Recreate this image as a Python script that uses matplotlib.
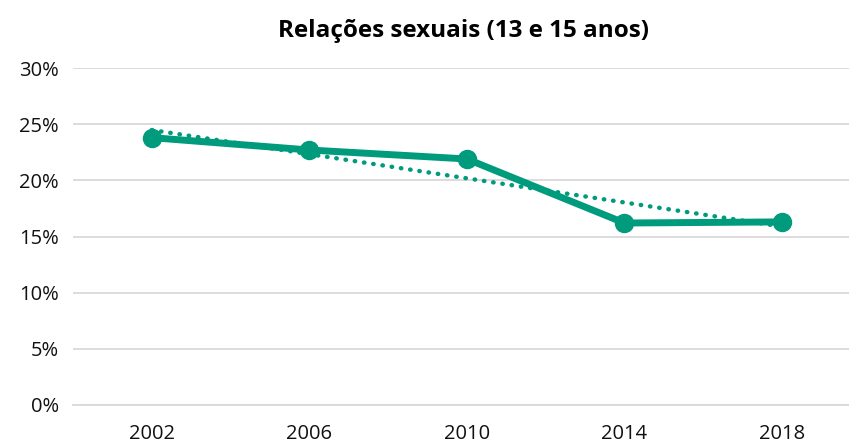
import numpy as np
import matplotlib.pyplot as plt

# Dados
anos = ['2002', '2006', '2010', '2014', '2018']
valores = [23.8, 22.7, 21.9, 16.2, 16.3]
yticks = [0, 5, 10, 15, 20, 25, 30]

cor = '#009B7D'
x = np.arange(len(anos))

# Linha de tendência linear (como no Excel)
m, b = np.polyfit(x, valores, 1)

fig = plt.figure(figsize=(8.49, 4.45), dpi=100)
ax = fig.add_axes([73 / 849, 40 / 445, 776 / 849, 337 / 445])

ax.plot(x, m * x + b, linestyle=(0, (0.1, 2.0)), dash_capstyle='round',
        color=cor, linewidth=3.2, zorder=2)
ax.plot(x, valores, color=cor, linewidth=5, marker='o', markersize=13,
        zorder=3, solid_capstyle='round')

ax.set_xlim(-0.5, 4.425)
ax.set_ylim(0, 30)
ax.set_yticks(yticks)
ax.set_yticklabels([f'{v}%' for v in yticks])
ax.set_xticks(x)
ax.set_xticklabels(anos)
ax.grid(axis='y', color='#d9d9d9', linewidth=1.3)
ax.set_axisbelow(True)
for s in ax.spines.values():
    s.set_visible(False)
ax.spines['bottom'].set_visible(True)
ax.spines['bottom'].set_color('#d9d9d9')
ax.spines['bottom'].set_linewidth(1.3)
ax.tick_params(length=0, labelsize=14.5, colors='#111111')
ax.tick_params(axis='x', pad=14)
ax.tick_params(axis='y', pad=10)
for lbl in ax.get_xticklabels() + ax.get_yticklabels():
    lbl.set_family('Open Sans')

fig.text(0.546, 0.93, 'Relações sexuais (13 e 15 anos)', ha='center', va='center',
         fontsize=17.5, fontweight='bold', family='Open Sans')

fig.savefig('out.png', dpi=100)
